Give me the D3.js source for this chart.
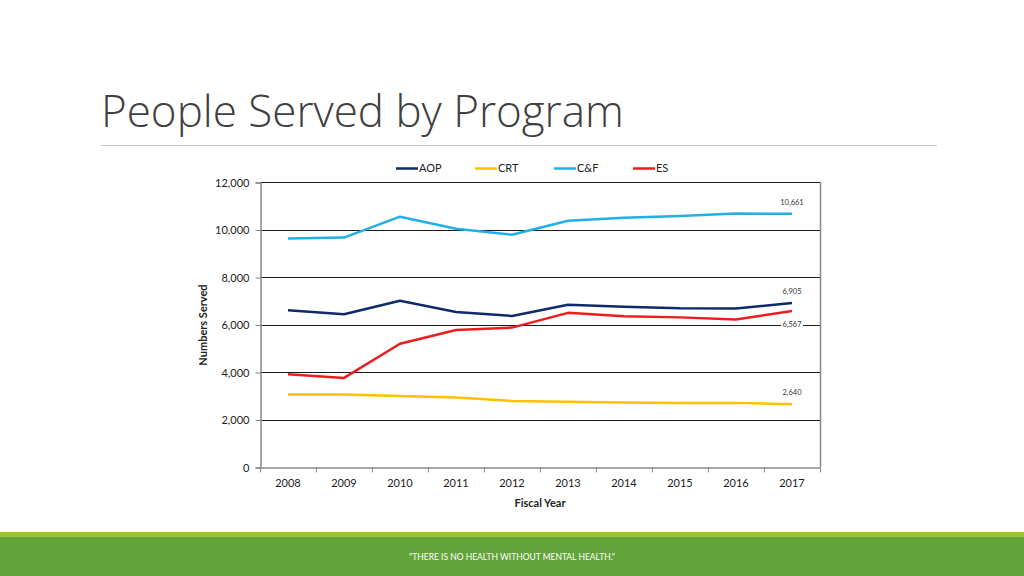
<!DOCTYPE html>
<html><head><meta charset="utf-8">
<script src="https://cdn.jsdelivr.net/npm/d3@7"></script>
<style>
html,body{margin:0;padding:0;background:#fff;}
svg{display:block;}
text{font-family:Lato,"Open Sans",sans-serif;}
</style></head>
<body>
<svg id="c" width="1024" height="576"></svg>
<script>
const years = ["2008","2009","2010","2011","2012","2013","2014","2015","2016","2017"];
const seriesNames = ["AOP","CRT","C&F","ES"];
const seriesColors = ["#0d2a6b","#ffc000","#1fb0e6","#ee1c1c"];
const aop = [6600,6430,7000,6530,6360,6830,6750,6680,6670,6905];
const crt = [3050,3050,2990,2930,2780,2750,2720,2690,2700,2640];
const cf  = [9620,9660,10540,10030,9780,10370,10490,10570,10670,10661];
const es  = [3910,3750,5190,5770,5870,6490,6350,6300,6210,6567];
const yTicks = [0,2000,4000,6000,8000,10000,12000];
const endLabels = [
  {series:"AOP", text:"6,905", pos:"above"},
  {series:"CRT", text:"2,640", pos:"above"},
  {series:"C&F", text:"10,661", pos:"above"},
  {series:"ES", text:"6,567", pos:"below"}
];
const values = [aop, crt, cf, es];

const svg = d3.select("#c");

// Title
const title = svg.append("text").attr("x",101).attr("y",127)
  .attr("font-size",40).attr("font-weight",300).attr("fill","#404040")
  .style("font-family","'Open Sans', Lato, sans-serif")
  .text("People Served by Program");
const tw = title.node().getComputedTextLength();
if (tw > 0) title.attr("font-size", 40 * 523 / tw);
svg.append("line").attr("x1",101).attr("x2",937).attr("y1",145.5).attr("y2",145.5)
  .attr("stroke","#c8c8c8").attr("stroke-width",1);

// Footer
svg.append("rect").attr("x",0).attr("y",532).attr("width",1024).attr("height",6).attr("fill","#9cc33c");
svg.append("rect").attr("x",0).attr("y",537).attr("width",1024).attr("height",39).attr("fill","#62a43a");
svg.append("text").attr("x",512).attr("y",560).attr("text-anchor","middle")
  .attr("font-size",8.5).attr("fill","#ffffff").text("\"THERE IS NO HEALTH WITHOUT MENTAL HEALTH.\"");

// Plot
const pL=260, pR=820, pT=182, pB=467;
const x = d3.scaleBand().domain(years).range([pL,pR]);
const y = d3.scaleLinear().domain([0,12000]).range([pB,pT]);

const g = svg.append("g");
g.selectAll("line.grid").data(yTicks.filter(d=>d>0)).enter().append("line")
  .attr("x1",pL).attr("x2",pR).attr("y1",d=>Math.round(y(d))+0.5).attr("y2",d=>Math.round(y(d))+0.5)
  .attr("stroke","#1a1a1a").attr("stroke-width",1);
g.append("line").attr("x1",pR+0.5).attr("x2",pR+0.5).attr("y1",pT).attr("y2",pB)
  .attr("stroke","#888").attr("stroke-width",1.5);

// Y axis
const yAxis = d3.axisLeft(y).tickValues(yTicks).tickSize(5).tickPadding(6).tickFormat(d3.format(","));
const ya = svg.append("g").attr("transform",`translate(${pL+0.5},0.5)`).call(yAxis);
ya.select(".domain").attr("stroke","#888").attr("stroke-width",1.5);
ya.selectAll(".tick line").attr("stroke","#888");
ya.selectAll("text").attr("font-size",11).attr("fill","#222").style("font-family","Lato, 'Open Sans', sans-serif");

// X axis
const xAxis = d3.axisBottom(x).tickSize(0).tickPadding(12);
const xa = svg.append("g").attr("transform",`translate(0,${pB+0.5})`).call(xAxis);
xa.select(".domain").attr("stroke","#888").attr("stroke-width",1.5);
xa.selectAll("text").attr("font-size",11).attr("fill","#222").style("font-family","Lato, 'Open Sans', sans-serif");
const bounds = years.map(d=>x(d)).concat([pR]);
xa.selectAll("line.bt").data(bounds).enter().append("line")
  .attr("x1",d=>Math.round(d)+0.5).attr("x2",d=>Math.round(d)+0.5).attr("y1",0).attr("y2",5)
  .attr("stroke","#888");

// Axis titles
svg.append("text").attr("transform","translate(207,325) rotate(-90)").attr("text-anchor","middle")
  .attr("font-size",11).attr("font-weight",700).attr("fill","#222").text("Numbers Served");
svg.append("text").attr("x",540).attr("y",507).attr("text-anchor","middle")
  .attr("font-size",11).attr("font-weight",700).attr("fill","#222").text("Fiscal Year");

// Lines
const line = d3.line().x((d,i)=>x(years[i])+x.bandwidth()/2).y(d=>y(d));
seriesNames.forEach((s,k)=>{
  svg.append("path").datum(values[k]).attr("d",line).attr("fill","none")
    .attr("stroke",seriesColors[k]).attr("stroke-width",2.5).attr("stroke-linejoin","round");
});

// End labels
endLabels.forEach(l=>{
  const k = seriesNames.indexOf(l.series);
  const v = values[k][values[k].length-1];
  const cx = x(years[years.length-1])+x.bandwidth()/2;
  const cy = y(v) + (l.pos==="above" ? -9 : 16);
  if(l.pos==="below"){
    svg.append("rect").attr("x",cx-11).attr("y",cy-7).attr("width",22).attr("height",9).attr("fill","#fff");
  }
  svg.append("text").attr("x",cx).attr("y",cy).attr("text-anchor","middle")
    .attr("font-size",7.5).attr("fill","#333").text(l.text);
});

// Legend
const legX = [396,475,554,633];
seriesNames.forEach((s,k)=>{
  svg.append("line").attr("x1",legX[k]).attr("x2",legX[k]+22).attr("y1",168.5).attr("y2",168.5)
    .attr("stroke",seriesColors[k]).attr("stroke-width",2.5);
  svg.append("text").attr("x",legX[k]+23).attr("y",172).attr("font-size",11).attr("fill","#222").text(s);
});
</script>
</body></html>
